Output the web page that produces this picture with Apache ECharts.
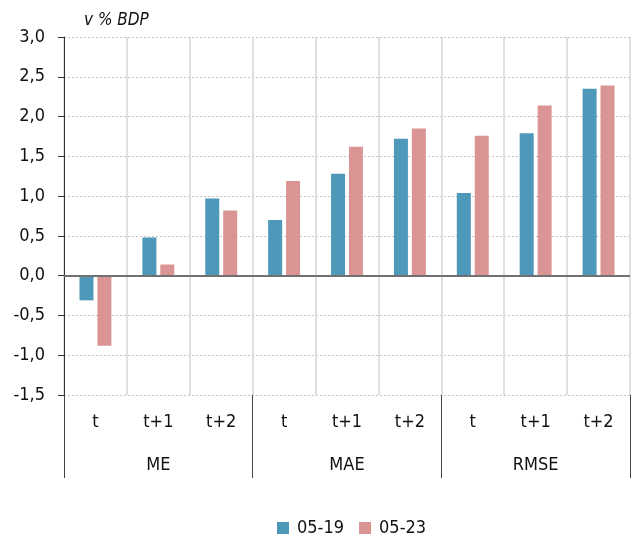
<!DOCTYPE html>
<html>
<head>
<meta charset="utf-8">
<script src="https://cdn.jsdelivr.net/npm/echarts@6/dist/echarts.min.js"></script>
<style>html,body{margin:0;padding:0;background:#fff}#c{width:632px;height:538px}</style>
</head>
<body>
<div id="c"></div>
<script>
const subCategories = ['t', 't+1', 't+2', 't', 't+1', 't+2', 't', 't+1', 't+2'];
const groups = ['ME', 'MAE', 'RMSE'];
const series0519 = [-0.31, 0.48, 0.97, 0.70, 1.28, 1.72, 1.04, 1.79, 2.35];
const series0523 = [-0.88, 0.14, 0.82, 1.19, 1.62, 1.85, 1.76, 2.14, 2.39];
const yTicks = { min: -1.5, max: 3.0, interval: 0.5 };
const unitLabel = 'v % BDP';

const FONT = "'DejaVu Sans Condensed','Liberation Sans Narrow',sans-serif";
const chart = echarts.init(document.getElementById('c'), null, { renderer: 'canvas' });
chart.setOption({
  animation: false,
  textStyle: { fontFamily: FONT },
  title: {
    text: unitLabel, left: 79, top: 7,
    textStyle: { fontFamily: FONT, fontStyle: 'italic', fontWeight: 'normal', fontSize: 17, color: '#111' }
  },
  grid: { left: 64, right: 2, top: 37, bottom: 143, containLabel: false },
  legend: {
    left: 272, top: 514, itemWidth: 12, itemHeight: 12, itemGap: 15,
    icon: 'rect',
    textStyle: { fontFamily: FONT, fontSize: 18, color: '#111', padding: [0, 0, 0, 3] },
    data: ['05-19', '05-23']
  },
  xAxis: [
    {
      type: 'category', data: subCategories, position: 'bottom',
      axisLine: { show: false, onZero: false },
      axisTick: { show: false },
      axisLabel: { margin: 18, fontSize: 18, color: '#111', fontFamily: FONT, interval: 0 },
      splitLine: { show: true, lineStyle: { color: '#d4d4d4', width: 1.5, type: 'solid' } }
    },
    {
      type: 'category', data: groups, position: 'bottom',
      axisLine: { show: false, onZero: false },
      axisTick: { show: true, length: 83, lineStyle: { color: '#444', width: 1 } },
      axisLabel: { margin: 61, fontSize: 18, color: '#111', fontFamily: FONT },
      splitLine: { show: false }
    }
  ],
  yAxis: {
    type: 'value', min: yTicks.min, max: yTicks.max, interval: yTicks.interval,
    axisLine: { show: true, lineStyle: { color: '#333', width: 1 } },
    axisTick: { show: true, length: 6, lineStyle: { color: '#333' } },
    axisLabel: {
      margin: 19, fontSize: 18, color: '#111', fontFamily: FONT,
      formatter: v => v.toFixed(1).replace('.', ',')
    },
    splitLine: { show: true, lineStyle: { color: '#c4c4c4', width: 1, type: [2, 2] } }
  },
  series: [
    {
      name: '05-19', type: 'bar', xAxisIndex: 0, data: series0519,
      barWidth: 14, barGap: '28%',
      itemStyle: { color: '#4e98b9' },
      markLine: {
        silent: true, symbol: ['none', 'none'], label: { show: false },
        lineStyle: { color: '#707070', width: 2, type: 'solid' },
        data: [{ yAxis: 0 }]
      }
    },
    {
      name: '05-23', type: 'bar', xAxisIndex: 0, data: series0523,
      barWidth: 14, barGap: '28%',
      itemStyle: { color: '#da9494' }
    }
  ]
});
</script>
</body>
</html>
